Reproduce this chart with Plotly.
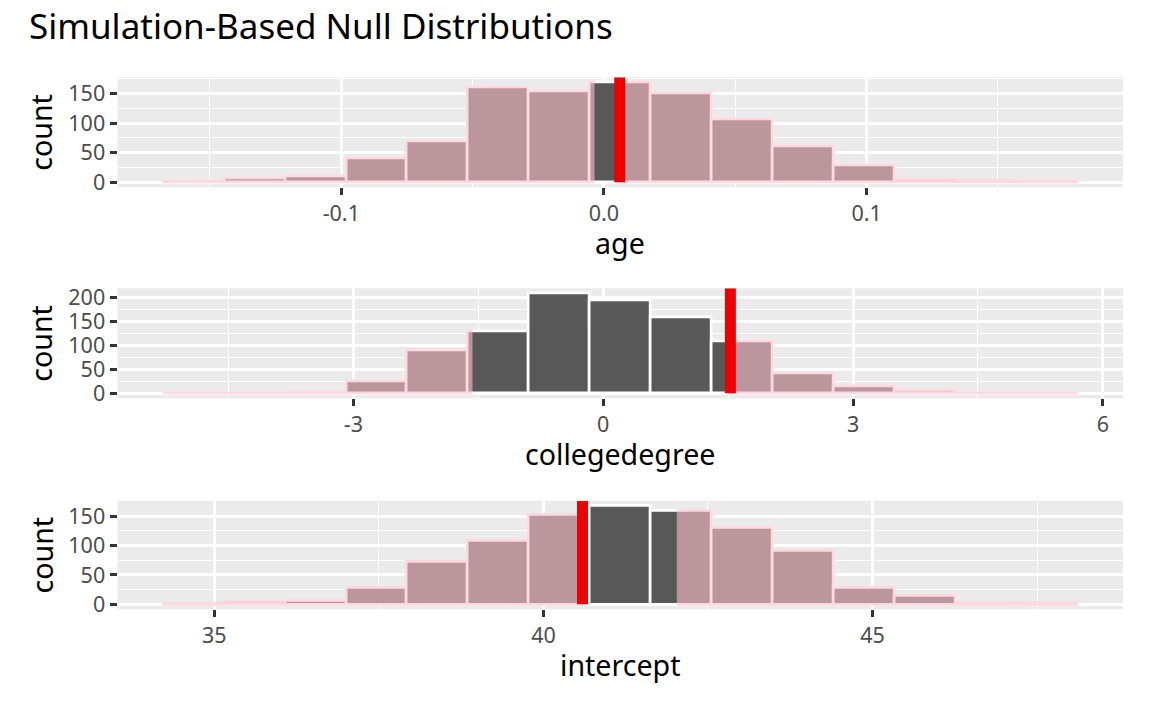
import plotly.graph_objects as go
from plotly.subplots import make_subplots

# ==============================
# Data
# ==============================
# each panel: 15 histogram bins starting at first_edge with constant width,
# the observed statistic (red line) and its mirror for the two-sided p-value
age_counts = [2, 6, 10, 40, 70, 160, 153, 169, 151, 107, 61, 29, 5, 4, 2]
age_first_edge = -0.1678
age_bin_width = 0.0232
age_obs = 0.0060
age_mirror = -0.0038
age_ticks = [-0.1, 0.0, 0.1]
age_ticktext = ["-0.1", "0.0", "0.1"]

college_counts = [1, 1, 3, 26, 90, 128, 208, 194, 158, 108, 42, 15, 7, 0, 1]
college_first_edge = -5.283
college_bin_width = 0.7317
college_obs = 1.527
college_mirror = -1.58
college_ticks = [-3, 0, 3, 6]
college_ticktext = ["-3", "0", "3", "6"]

intercept_counts = [1, 4, 6, 29, 72, 108, 153, 168, 160, 130, 91, 29, 15, 3, 2]
intercept_first_edge = 34.223
intercept_bin_width = 0.9259
intercept_obs = 40.594
intercept_mirror = 42.046
intercept_ticks = [35, 40, 45]
intercept_ticktext = ["35", "40", "45"]

count_ticks = [0, 50, 100, 150, 200]

panels = [
    ("age", age_counts, age_first_edge, age_bin_width, age_obs, age_mirror, age_ticks, age_ticktext),
    ("collegedegree", college_counts, college_first_edge, college_bin_width, college_obs, college_mirror,
     college_ticks, college_ticktext),
    ("intercept", intercept_counts, intercept_first_edge, intercept_bin_width, intercept_obs, intercept_mirror,
     intercept_ticks, intercept_ticktext),
]

# ==============================
# Styling / layout
# ==============================
FONT = "Noto Sans"
BAR_GREY = "#595959"
PANEL_BG = "#EBEBEB"
RED = "#EE0000"
TICK_SIZE = 21.5
AXIS_TITLE_SIZE = 28.6
TITLE_SIZE = 35

# the page body has an 8px margin, so the figure is drawn 8px smaller
PAGE_MARGIN = 8
W = 1152 - PAGE_MARGIN
H = 711 - PAGE_MARGIN


def px_x(p):
    return (p - PAGE_MARGIN) / W


def px_y(p):
    return 1 - (p - PAGE_MARGIN) / H


X_DOMAIN = [px_x(117.5), px_x(1123)]
Y_DOMAINS = [(77.3, 187.3), (288.3, 398.3), (500.7, 609.3)]  # pixel top/bottom
MINOR_STEP = [0.05, 1.5, 2.5]

fig = make_subplots(rows=3, cols=1)

for i, (name, counts, first_edge, width, obs, mirror, ticks, ticktext) in enumerate(panels):
    row = i + 1
    n = len(counts)
    edges = [first_edge + k * width for k in range(n + 1)]
    centers = [(edges[k] + edges[k + 1]) / 2 for k in range(n)]

    # base histogram
    fig.add_trace(
        go.Bar(
            x=centers, y=counts, width=[width] * n,
            marker=dict(color=BAR_GREY, line=dict(color="white", width=2.7)),
            hoverinfo="skip", showlegend=False
        ),
        row=row, col=1
    )

    # pink shading outside [lo, hi]
    lo, hi = min(obs, mirror), max(obs, mirror)
    sx, sy, sw = [], [], []
    for k in range(n):
        a, b = edges[k], edges[k + 1]
        if a < lo:
            r = min(b, lo)
            sx.append((a + r) / 2); sy.append(counts[k]); sw.append(r - a)
        if b > hi:
            l = max(a, hi)
            sx.append((l + b) / 2); sy.append(counts[k]); sw.append(b - l)
    fig.add_trace(
        go.Bar(
            x=sx, y=sy, width=sw,
            marker=dict(color="pink", line=dict(color="pink", width=2.7)),
            opacity=0.6, hoverinfo="skip", showlegend=False
        ),
        row=row, col=1
    )

    # axis ranges like ggplot (5% expansion)
    x_lo, x_hi = edges[0], edges[-1]
    pad = 0.05 * (x_hi - x_lo)
    y_max = max(counts)
    y_top = 1.05 * y_max

    fig.add_shape(
        type="line", x0=obs, x1=obs, y0=0, y1=y_top,
        line=dict(color=RED, width=11), row=row, col=1
    )

    top_px, bot_px = Y_DOMAINS[i]
    fig.update_xaxes(
        domain=X_DOMAIN, range=[x_lo - pad, x_hi + pad],
        tickmode="array", tickvals=ticks, ticktext=ticktext,
        ticks="outside", ticklen=7, tickwidth=2.7, tickcolor="#333333",
        tickfont=dict(family=FONT, size=TICK_SIZE, color="#4D4D4D"),
        showgrid=True, gridcolor="white", gridwidth=2.7,
        minor=dict(dtick=MINOR_STEP[i], tick0=0, showgrid=True, gridcolor="white", gridwidth=1.3, ticklen=0),
        zeroline=False, showline=False, automargin=False,
        row=row, col=1
    )
    fig.update_yaxes(
        domain=[px_y(bot_px), px_y(top_px)], range=[-0.05 * y_max, y_top],
        tickmode="array", tickvals=[t for t in count_ticks if t <= y_top],
        ticks="outside", ticklen=7, tickwidth=2.7, tickcolor="#333333",
        tickfont=dict(family=FONT, size=TICK_SIZE, color="#4D4D4D"),
        showgrid=True, gridcolor="white", gridwidth=2.7,
        minor=dict(dtick=25, tick0=0, showgrid=True, gridcolor="white", gridwidth=1.3, ticklen=0),
        zeroline=False, showline=False, automargin=False,
        row=row, col=1
    )

    # axis titles (baseline sits 65px under the panel)
    fig.add_annotation(
        text=name, xref="paper", yref="paper",
        x=px_x((117.5 + 1123) / 2), y=px_y(bot_px + 65 - 10),
        xanchor="center", yanchor="middle", showarrow=False,
        font=dict(family=FONT, size=AXIS_TITLE_SIZE, color="black")
    )
    fig.add_annotation(
        text="count", xref="paper", yref="paper",
        x=px_x(40.5), y=px_y((top_px + bot_px) / 2), textangle=-90,
        xanchor="center", yanchor="middle", showarrow=False,
        font=dict(family=FONT, size=AXIS_TITLE_SIZE, color="black")
    )

fig.update_layout(
    width=W, height=H,
    margin=dict(l=0, r=0, t=0, b=0),
    barmode="overlay", bargap=0,
    plot_bgcolor=PANEL_BG, paper_bgcolor="white",
    font=dict(family=FONT),
    title=dict(
        text="Simulation-Based Null Distributions",
        font=dict(family=FONT, size=TITLE_SIZE, color="black"),
        x=px_x(29), xanchor="left", xref="paper",
        y=px_y(27), yanchor="middle"
    ),
    showlegend=False
)

fig.write_html("out.html")
